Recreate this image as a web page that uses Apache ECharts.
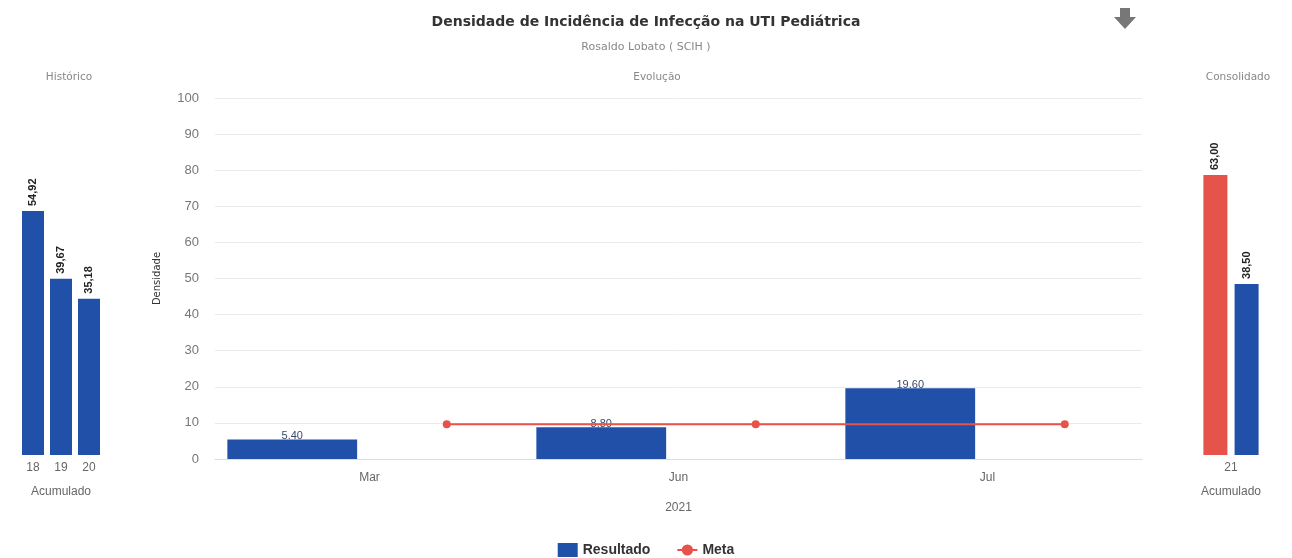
<!DOCTYPE html>
<html>
<head>
<meta charset="utf-8">
<script src="https://cdn.jsdelivr.net/npm/echarts@6/dist/echarts.min.js"></script>
<style>html,body{margin:0;padding:0;background:#fff}#c{width:1292px;height:558px}</style>
</head>
<body>
<div id="c"></div>
<script>
const histCategories = ['18', '19', '20'];
const histValues = [54.92, 39.67, 35.18];
const months = ['Mar', 'Jun', 'Jul'];
const resultado = [5.40, 8.80, 19.60];
const meta = [9.6, 9.6, 9.6];
const consolidadoCategory = ['21'];
const consolidadoMeta = [63.00];
const consolidadoResultado = [38.50];
const yTicks = { min: 0, max: 100, interval: 10 };

const BLUE = '#2150a8';
const RED = '#e5534b';

const slotCats = months.flatMap(m => [m + '-r', m + '-m']);
const barSlots = resultado.flatMap(v => [v, null]);
const metaSlots = meta.flatMap(v => [null, v]);

const comma = p => p.value.toFixed(2).replace('.', ',');
const sideLabel = {
  show: true, position: 'top', rotate: 90, align: 'left', verticalAlign: 'middle',
  distance: 5, formatter: comma, fontSize: 11, fontWeight: 'bold', color: '#222',
  fontFamily: 'Liberation Sans'
};
const small = { fontSize: 10.5, fontWeight: 'normal', color: '#888', fontFamily: 'DejaVu Sans' };

const chart = echarts.init(document.getElementById('c'));
chart.setOption({
  animation: false,
  textStyle: { fontFamily: 'Liberation Sans' },
  title: [
    { text: 'Densidade de Incidência de Infecção na UTI Pediátrica', left: 'center', top: 10,
      textStyle: { fontSize: 14, fontWeight: 'bold', color: '#333', fontFamily: 'DejaVu Sans' } },
    { text: 'Rosaldo Lobato ( SCIH )', left: 'center', top: 37,
      textStyle: Object.assign({}, small, { fontSize: 11 }) },
    { text: 'Histórico', left: 64, top: 67, textAlign: 'center', textStyle: small },
    { text: 'Evolução', left: 652, top: 67, textAlign: 'center', textStyle: small },
    { text: 'Consolidado', left: 1233, top: 67, textAlign: 'center', textStyle: small }
  ],
  graphic: [{
    type: 'polygon', z: 100,
    shape: { points: [[1120, 8], [1130, 8], [1130, 17], [1136, 17], [1125, 29], [1114, 17], [1120, 17]] },
    style: { fill: '#777' }
  }],
  legend: {
    top: 538, left: 'center', itemGap: 26, itemWidth: 20, itemHeight: 14,
    textStyle: { fontSize: 14, fontWeight: 'bold', color: '#333' },
    data: [{ name: 'Resultado', icon: 'rect' }, { name: 'Meta' }]
  },
  grid: [
    { left: 19, width: 84, top: 144, bottom: 103 },
    { left: 215, right: 150, top: 98, bottom: 99 },
    { left: 1198, width: 66, top: 144, bottom: 103 }
  ],
  xAxis: [
    { gridIndex: 0, type: 'category', data: histCategories,
      axisLine: { show: false }, axisTick: { show: false },
      axisLabel: { color: '#666', fontSize: 12, margin: 7 },
      name: 'Acumulado', nameLocation: 'middle', nameGap: 31,
      nameTextStyle: { color: '#666', fontSize: 12 } },
    { gridIndex: 1, type: 'category', data: months,
      axisLine: { lineStyle: { color: '#ddd' } }, axisTick: { show: false },
      axisLabel: { color: '#666', fontSize: 12, margin: 13 },
      name: '2021', nameLocation: 'middle', nameGap: 43,
      nameTextStyle: { color: '#666', fontSize: 12 } },
    { gridIndex: 1, type: 'category', data: slotCats, show: false },
    { gridIndex: 2, type: 'category', data: consolidadoCategory,
      axisLine: { show: false }, axisTick: { show: false },
      axisLabel: { color: '#666', fontSize: 12, margin: 7 },
      name: 'Acumulado', nameLocation: 'middle', nameGap: 31,
      nameTextStyle: { color: '#666', fontSize: 12 } }
  ],
  yAxis: [
    { gridIndex: 0, type: 'value', min: 0, max: 70, show: false },
    { gridIndex: 1, type: 'value', min: yTicks.min, max: yTicks.max, interval: yTicks.interval,
      axisLine: { show: false }, axisTick: { show: false },
      axisLabel: { color: '#777', fontSize: 13, margin: 16 },
      splitLine: { lineStyle: { color: '#ebebeb' } },
      name: 'Densidade', nameLocation: 'middle', nameGap: 53, nameRotate: 90,
      nameTextStyle: { color: '#333', fontSize: 10, fontFamily: 'DejaVu Sans' } },
    { gridIndex: 2, type: 'value', min: 0, max: 70, show: false }
  ],
  series: [
    { name: 'Histórico', type: 'bar', xAxisIndex: 0, yAxisIndex: 0, data: histValues,
      barWidth: 22, itemStyle: { color: BLUE }, label: sideLabel },
    { name: 'Resultado', type: 'bar', xAxisIndex: 2, yAxisIndex: 1, data: barSlots,
      barCategoryGap: '16%', itemStyle: { color: BLUE },
      label: { show: true, position: 'top', distance: -2, color: '#3a4a6a', fontSize: 11,
        formatter: p => p.value.toFixed(2) } },
    { name: 'Meta', type: 'line', xAxisIndex: 2, yAxisIndex: 1, data: metaSlots,
      connectNulls: true, symbol: 'circle', symbolSize: 8,
      lineStyle: { color: RED, width: 2 }, itemStyle: { color: RED } },
    { name: 'Meta acumulada', type: 'bar', xAxisIndex: 3, yAxisIndex: 2, data: consolidadoMeta,
      barWidth: 24, barGap: '30%', itemStyle: { color: RED }, label: sideLabel },
    { name: 'Resultado acumulado', type: 'bar', xAxisIndex: 3, yAxisIndex: 2, data: consolidadoResultado,
      barWidth: 24, barGap: '30%', itemStyle: { color: BLUE }, label: sideLabel }
  ]
});
</script>
</body>
</html>
